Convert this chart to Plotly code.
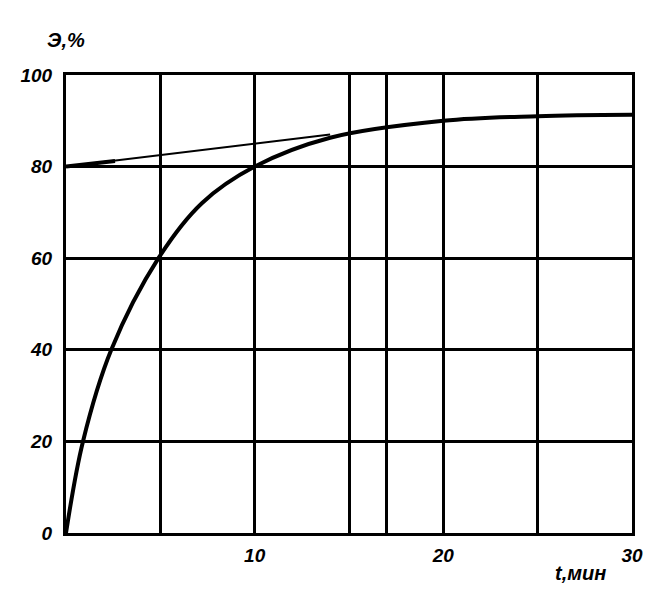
import plotly.graph_objects as go

# Data
t_curve = [0, 0.9, 2.4, 4.9, 7.2, 10, 14, 20, 25, 30]
e_curve = [0, 20, 40, 60, 72, 80, 86.3, 90, 91, 91.3]

t_line = [0, 14]
e_line = [80, 87]

t_arrow = [0, 2.6]
e_arrow = [80, 81.2]

x_grid = [5, 10, 15, 17, 20, 25, 30]
x_labels = ["", "10", "", "", "20", "", "30"]
y_grid = [0, 20, 40, 60, 80, 100]
y_labels = ["0", "20", "40", "60", "80", "100"]

font_fam = "Liberation Sans Narrow, Liberation Sans, Arial, sans-serif"
tick_font = dict(family=font_fam, size=19, color="black", weight="bold", style="italic")
title_font = dict(family=font_fam, size=20, color="black", weight="bold", style="italic")

fig = go.Figure()
fig.add_trace(go.Scatter(x=t_line, y=e_line, mode="lines",
                         line=dict(color="black", width=2), hoverinfo="skip"))
fig.add_trace(go.Scatter(x=t_arrow, y=e_arrow, mode="lines",
                         line=dict(color="black", width=4), hoverinfo="skip"))
fig.add_trace(go.Scatter(x=t_curve, y=e_curve, mode="lines", line_shape="spline",
                         line=dict(color="black", width=4, smoothing=1.0), hoverinfo="skip"))

fig.update_layout(
    width=647, height=606,
    margin=dict(l=54, r=23, t=67, b=81),
    paper_bgcolor="white", plot_bgcolor="white",
    showlegend=False,
    xaxis=dict(range=[0, 30], tickmode="array", tickvals=x_grid, ticktext=x_labels,
               showgrid=True, gridcolor="black", gridwidth=3, zeroline=False,
               showline=True, linecolor="black", linewidth=3, mirror=True,
               ticks="", tickfont=tick_font, ticklabelstandoff=3),
    yaxis=dict(range=[0, 100], tickmode="array", tickvals=y_grid, ticktext=y_labels,
               showgrid=True, gridcolor="black", gridwidth=3, zeroline=False,
               showline=True, linecolor="black", linewidth=3, mirror=True,
               ticks="", tickfont=tick_font, ticklabelstandoff=7),
    annotations=[
        dict(text="Э,%", xref="paper", yref="paper", x=0.0, y=1.076,
             showarrow=False, font=title_font, xanchor="center", yanchor="middle"),
        dict(text="t,мин", xref="paper", yref="paper", x=0.909, y=-0.087,
             showarrow=False, font=title_font, xanchor="center", yanchor="middle"),
    ],
)

fig.write_html("out.html")
